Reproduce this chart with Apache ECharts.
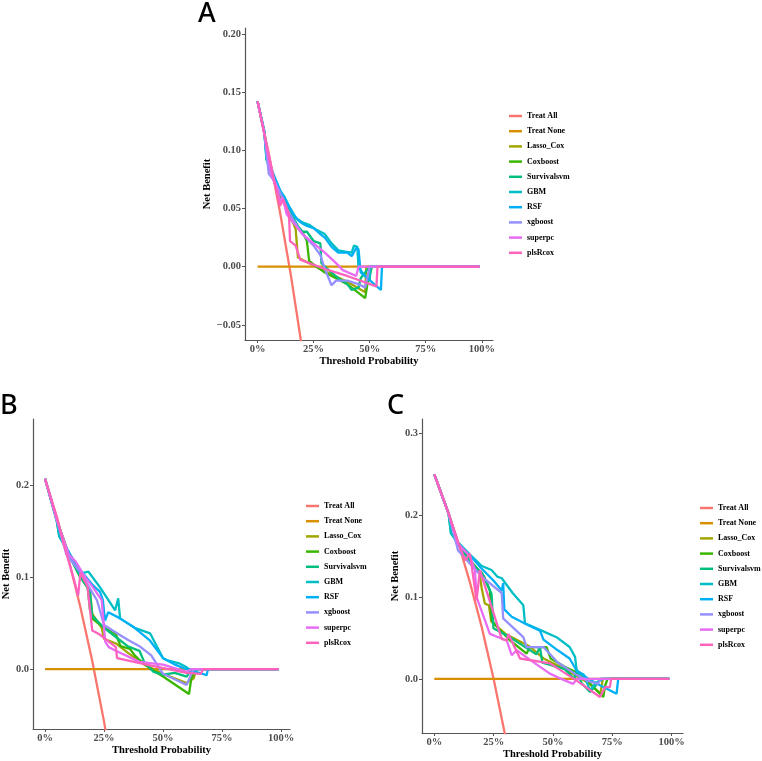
<!DOCTYPE html>
<html>
<head>
<meta charset="utf-8">
<script src="https://cdn.jsdelivr.net/npm/echarts@6/dist/echarts.min.js"></script>
<style>
  html, body { margin: 0; padding: 0; background: #fff; }
  #main { width: 762px; height: 761px; }
</style>
</head>
<body>
<div id="main"></div>
<script>
var names = ['Treat All', 'Treat None', 'Lasso_Cox', 'Coxboost', 'Survivalsvm', 'GBM', 'RSF', 'xgboost', 'superpc', 'plsRcox']
var colors = ['#F8766D', '#D89000', '#A3A500', '#39B600', '#00BF7D', '#00BFC4', '#00B0F6', '#9590FF', '#E76BF3', '#FF62BC']
var xTicks = [0, 0.25, 0.5, 0.75, 1]

// panel A  [threshold, net benefit]
var aTreatAll = [[0,0.142],[0.05,0.097],[0.10,0.047],[0.15,-0.009],[0.20,-0.072]]
var aTreatNone = [[0,0],[0.99,0]]
var aLassoCox = [[0,0.142],[0.03,0.115],[0.06,0.08],[0.1,0.062],[0.13,0.05],[0.15,0.042],[0.17,0.032],[0.18,0.008],[0.2,0.006],[0.3,-0.004],[0.4,-0.013],[0.48,-0.022],[0.485,0],[0.99,0]]
var aCoxboost = [[0,0.142],[0.03,0.115],[0.06,0.08],[0.1,0.062],[0.13,0.05],[0.15,0.04],[0.18,0.033],[0.2,0.03],[0.22,0.022],[0.23,0.005],[0.25,0.002],[0.3,-0.005],[0.35,-0.01],[0.4,-0.015],[0.48,-0.027],[0.49,-0.015],[0.51,0],[0.99,0]]
var aSurvivalsvm = [[0,0.142],[0.03,0.116],[0.04,0.092],[0.07,0.078],[0.1,0.064],[0.13,0.052],[0.15,0.045],[0.18,0.035],[0.2,0.03],[0.22,0.03],[0.25,0.022],[0.28,0.02],[0.285,0.003],[0.3,0],[0.36,-0.01],[0.4,-0.015],[0.42,-0.02],[0.45,-0.018],[0.46,-0.01],[0.5,0],[0.99,0]]
var aGBM = [[0,0.142],[0.03,0.117],[0.04,0.092],[0.07,0.078],[0.1,0.065],[0.12,0.06],[0.14,0.052],[0.17,0.042],[0.2,0.038],[0.23,0.036],[0.26,0.032],[0.3,0.028],[0.33,0.02],[0.36,0.014],[0.39,0.013],[0.42,0.012],[0.43,0.018],[0.445,0.017],[0.45,0],[0.47,-0.006],[0.5,-0.012],[0.505,0],[0.99,0]]
var aRSF = [[0,0.142],[0.03,0.115],[0.04,0.096],[0.07,0.08],[0.1,0.066],[0.13,0.055],[0.16,0.045],[0.18,0.04],[0.2,0.037],[0.22,0.035],[0.25,0.033],[0.28,0.028],[0.3,0.025],[0.33,0.017],[0.36,0.012],[0.4,0.012],[0.42,0.009],[0.44,0.016],[0.45,0.015],[0.46,-0.005],[0.55,-0.02],[0.555,0],[0.99,0]]
var aXgboost = [[0,0.142],[0.03,0.115],[0.05,0.08],[0.08,0.072],[0.1,0.064],[0.13,0.05],[0.16,0.04],[0.2,0.028],[0.25,0.018],[0.28,0.01],[0.3,-0.002],[0.33,-0.016],[0.35,-0.012],[0.4,-0.012],[0.45,-0.015],[0.48,-0.018],[0.5,0],[0.99,0]]
var aSuperpc = [[0,0.142],[0.03,0.115],[0.06,0.08],[0.09,0.065],[0.1,0.055],[0.11,0.06],[0.13,0.045],[0.2,0.028],[0.3,0.012],[0.35,0.003],[0.38,-0.003],[0.44,-0.008],[0.45,0],[0.99,0]]
var aPlsRcox = [[0,0.142],[0.04,0.105],[0.07,0.078],[0.1,0.052],[0.115,0.058],[0.14,0.045],[0.145,0.022],[0.17,0.018],[0.19,0.006],[0.3,-0.002],[0.4,-0.008],[0.53,-0.017],[0.535,0],[0.99,0]]

// panel B
var bTreatAll = [[0,0.207],[0.05,0.165],[0.1,0.119],[0.15,0.067],[0.2,0.009],[0.25,-0.057],[0.26,-0.072]]
var bTreatNone = [[0,0],[0.99,0]]
var bLassoCox = [[0,0.207],[0.05,0.162],[0.1,0.125],[0.15,0.1],[0.19,0.085],[0.2,0.06],[0.24,0.045],[0.25,0.033],[0.3,0.028],[0.35,0.018],[0.42,0.005],[0.5,-0.005],[0.6,-0.015],[0.63,-0.01],[0.64,0],[0.99,0]]
var bCoxboost = [[0,0.207],[0.05,0.162],[0.1,0.125],[0.15,0.1],[0.18,0.09],[0.19,0.065],[0.2,0.055],[0.25,0.045],[0.3,0.038],[0.32,0.025],[0.36,0.022],[0.38,0.015],[0.4,0.01],[0.45,0],[0.5,-0.008],[0.61,-0.027],[0.62,-0.01],[0.64,0],[0.99,0]]
var bSurvivalsvm = [[0,0.207],[0.05,0.16],[0.06,0.145],[0.1,0.125],[0.15,0.1],[0.19,0.085],[0.2,0.058],[0.25,0.045],[0.3,0.035],[0.35,0.025],[0.4,0.02],[0.42,0.008],[0.46,-0.003],[0.5,-0.006],[0.55,-0.004],[0.6,-0.008],[0.62,0],[0.99,0]]
var bGBM = [[0,0.207],[0.05,0.162],[0.06,0.144],[0.1,0.128],[0.148,0.104],[0.184,0.106],[0.233,0.089],[0.297,0.064],[0.31,0.077],[0.318,0.055],[0.38,0.045],[0.445,0.039],[0.5,0.012],[0.515,0.01],[0.572,0.006],[0.6,0.002],[0.61,0],[0.99,0]]
var bRSF = [[0,0.207],[0.05,0.162],[0.085,0.133],[0.148,0.108],[0.2,0.092],[0.233,0.084],[0.245,0.075],[0.254,0.053],[0.268,0.062],[0.32,0.055],[0.374,0.046],[0.445,0.031],[0.5,0.012],[0.55,0.005],[0.6,0],[0.685,-0.0065],[0.69,0],[0.99,0]]
var bXgboost = [[0,0.207],[0.05,0.162],[0.09,0.125],[0.15,0.105],[0.22,0.075],[0.25,0.048],[0.3,0.04],[0.35,0.032],[0.4,0.025],[0.45,0.015],[0.5,-0.005],[0.6,-0.017],[0.62,-0.005],[0.63,0],[0.99,0]]
var bSuperpc = [[0,0.207],[0.05,0.162],[0.1,0.125],[0.13,0.117],[0.17,0.1],[0.2,0.09],[0.24,0.075],[0.255,0.03],[0.27,0.024],[0.3,0.02],[0.4,0.008],[0.5,0.005],[0.6,-0.003],[0.62,0],[0.99,0]]
var bPlsRcox = [[0,0.207],[0.05,0.165],[0.08,0.135],[0.12,0.1],[0.14,0.08],[0.15,0.105],[0.18,0.09],[0.2,0.042],[0.23,0.038],[0.27,0.03],[0.3,0.024],[0.305,0.012],[0.45,0.004],[0.6,-0.004],[0.66,-0.005],[0.67,0],[0.99,0]]

// panel C
var cTreatAll = [[0,0.25],[0.05,0.211],[0.1,0.167],[0.15,0.118],[0.2,0.063],[0.25,0],[0.3,-0.071]]
var cTreatNone = [[0,0],[0.99,0]]
var cLassoCox = [[0,0.25],[0.06,0.202],[0.1,0.165],[0.15,0.145],[0.19,0.13],[0.2,0.11],[0.213,0.092],[0.23,0.09],[0.24,0.07],[0.3,0.055],[0.4,0.04],[0.46,0.025],[0.55,0.012],[0.65,-0.005],[0.7,-0.018],[0.71,0],[0.99,0]]
var cCoxboost = [[0,0.25],[0.06,0.202],[0.1,0.165],[0.15,0.145],[0.21,0.125],[0.234,0.108],[0.241,0.072],[0.26,0.065],[0.319,0.047],[0.389,0.031],[0.403,0.039],[0.473,0.039],[0.49,0.025],[0.55,0.015],[0.62,0.005],[0.712,-0.022],[0.72,-0.008],[0.73,0],[0.99,0]]
var cSurvivalsvm = [[0,0.25],[0.06,0.202],[0.07,0.178],[0.1,0.165],[0.16,0.14],[0.2,0.13],[0.241,0.104],[0.249,0.062],[0.319,0.051],[0.43,0.03],[0.445,0.039],[0.455,0.02],[0.55,0.012],[0.59,0],[0.6,0.012],[0.62,-0.005],[0.656,-0.016],[0.68,-0.008],[0.7,0],[0.99,0]]
var cGBM = [[0,0.25],[0.06,0.202],[0.07,0.178],[0.1,0.167],[0.15,0.152],[0.2,0.138],[0.241,0.133],[0.265,0.125],[0.284,0.123],[0.33,0.105],[0.375,0.09],[0.382,0.068],[0.445,0.06],[0.515,0.051],[0.57,0.039],[0.593,0.027],[0.6,0.01],[0.63,0.005],[0.656,-0.014],[0.68,-0.005],[0.71,0],[0.99,0]]
var cRSF = [[0,0.25],[0.06,0.202],[0.1,0.165],[0.15,0.151],[0.192,0.137],[0.25,0.12],[0.284,0.108],[0.29,0.117],[0.295,0.085],[0.326,0.076],[0.4,0.065],[0.445,0.059],[0.46,0.048],[0.52,0.035],[0.57,0.025],[0.6,0.01],[0.65,0],[0.7,-0.008],[0.768,-0.018],[0.775,0],[0.99,0]]
var cXgboost = [[0,0.25],[0.06,0.202],[0.1,0.157],[0.2,0.125],[0.284,0.105],[0.29,0.074],[0.375,0.051],[0.389,0.039],[0.46,0.039],[0.52,0.02],[0.6,0.005],[0.642,-0.002],[0.69,-0.006],[0.7,0],[0.99,0]]
var cSuperpc = [[0,0.25],[0.06,0.202],[0.1,0.165],[0.15,0.15],[0.171,0.133],[0.178,0.1],[0.234,0.055],[0.305,0.047],[0.326,0.029],[0.347,0.035],[0.42,0.02],[0.487,0.0065],[0.52,0.002],[0.585,-0.006],[0.6,0],[0.99,0]]
var cPlsRcox = [[0,0.25],[0.06,0.202],[0.1,0.167],[0.13,0.145],[0.15,0.153],[0.178,0.096],[0.192,0.133],[0.284,0.049],[0.305,0.047],[0.312,0.055],[0.361,0.025],[0.487,0.019],[0.6,-0.002],[0.698,-0.022],[0.72,-0.01],[0.74,-0.01],[0.745,0],[0.99,0]]

var panels = [
    {curves: [aTreatAll, aTreatNone, aLassoCox, aCoxboost, aSurvivalsvm, aGBM, aRSF, aXgboost, aSuperpc, aPlsRcox],
     grid: {left: 245, top: 28, width: 248, height: 312}, x: [-0.056, 1.05], y: [-0.063, 0.205],
     yTicks: [-0.05, 0, 0.05, 0.1, 0.15, 0.2], digits: 2, nameGap: 31, legend: {left: 509, top: 110}},
    {curves: [bTreatAll, bTreatNone, bLassoCox, bCoxboost, bSurvivalsvm, bGBM, bRSF, bXgboost, bSuperpc, bPlsRcox],
     grid: {left: 33, top: 419, width: 257, height: 310}, x: [-0.051, 1.038], y: [-0.065, 0.272],
     yTicks: [0, 0.1, 0.2], digits: 1, nameGap: 19, legend: {left: 306, top: 500}},
    {curves: [cTreatAll, cTreatNone, cLassoCox, cCoxboost, cSurvivalsvm, cGBM, cRSF, cXgboost, cSuperpc, cPlsRcox],
     grid: {left: 422, top: 419, width: 261, height: 314}, x: [-0.052, 1.048], y: [-0.066, 0.3175],
     yTicks: [0, 0.1, 0.2, 0.3], digits: 1, nameGap: 19, legend: {left: 700, top: 502}}
]

var serif = 'Liberation Serif'
var tickLabel = {fontFamily: serif, fontWeight: 'bold', fontSize: 10.5, color: '#4d4d4d'}
var titleText = {fontFamily: serif, fontWeight: 'bold', fontSize: 10.5, color: '#000'}
var axisLine = {show: true, onZero: false, lineStyle: {color: '#555', width: 1.2}}

var option = {
    animation: false,
    grid: [], xAxis: [], yAxis: [], legend: [], series: [],
    graphic: [
        {type: 'text', left: 198, top: 1, style: {text: 'A', font: '500 27px "Noto Sans"', fill: '#000'}},
        {type: 'text', left: 0, top: 393, style: {text: 'B', font: '500 27px "Noto Sans"', fill: '#000'}},
        {type: 'text', left: 387, top: 393, style: {text: 'C', font: '500 27px "Noto Sans"', fill: '#000'}}
    ]
}

panels.forEach(function (p, i) {
    option.grid.push(p.grid)
    option.xAxis.push({
        type: 'value', gridIndex: i, min: p.x[0], max: p.x[1],
        name: 'Threshold Probability', nameLocation: 'middle', nameGap: 15, nameTextStyle: titleText,
        axisLine: axisLine, splitLine: {show: false},
        axisTick: {show: true, length: 3, customValues: xTicks, lineStyle: {color: '#555'}},
        axisLabel: Object.assign({margin: 4, customValues: xTicks, formatter: function (v) {
            return Math.round(v * 100) + '%'
        }}, tickLabel)
    })
    option.yAxis.push({
        type: 'value', gridIndex: i, min: p.y[0], max: p.y[1],
        name: 'Net Benefit', nameLocation: 'middle', nameGap: p.nameGap, nameTextStyle: titleText,
        axisLine: axisLine, splitLine: {show: false},
        axisTick: {show: true, length: 3, customValues: p.yTicks, lineStyle: {color: '#555'}},
        axisLabel: Object.assign({margin: 4, customValues: p.yTicks, formatter: function (v) {
            return v.toFixed(p.digits).replace('-', '\u2212')
        }}, tickLabel)
    })
    option.legend.push({
        left: p.legend.left, top: p.legend.top, orient: 'vertical', padding: 0,
        data: names, icon: 'rect', itemWidth: 13, itemHeight: 2.5, itemGap: 3.2,
        textStyle: {fontFamily: serif, fontWeight: 'bold', fontSize: 8, lineHeight: 12, color: '#000'},
        selectedMode: false
    })
    p.curves.forEach(function (d, k) {
        option.series.push({
            name: names[k], type: 'line', xAxisIndex: i, yAxisIndex: i,
            data: d, showSymbol: false, clip: true,
            lineStyle: {color: colors[k], width: 2.3},
            itemStyle: {color: colors[k]},
            emphasis: {disabled: true}
        })
    })
})

var myChart = echarts.init(document.getElementById('main'))
myChart.setOption(option)
</script>
</body>
</html>
